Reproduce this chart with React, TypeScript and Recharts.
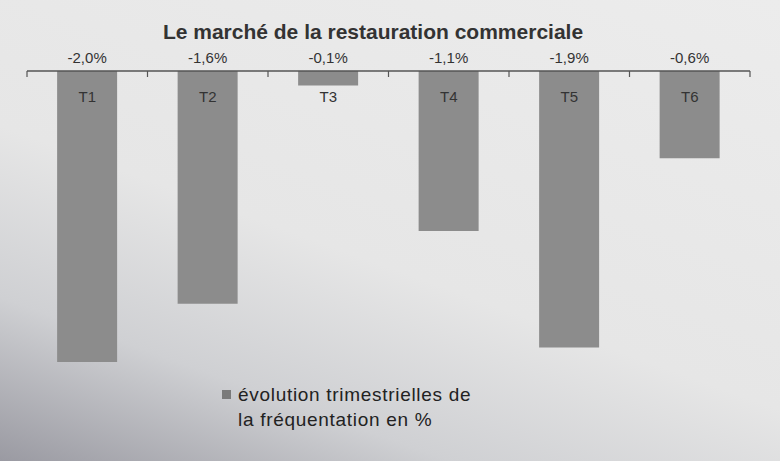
import React from "react";
import { BarChart, Bar, XAxis, YAxis, LabelList } from "recharts";

const categories = ["T1", "T2", "T3", "T4", "T5", "T6"];
const values = [-2.0, -1.6, -0.1, -1.1, -1.9, -0.6];
const valueLabels = ["-2,0%", "-1,6%", "-0,1%", "-1,1%", "-1,9%", "-0,6%"];
const seriesName = "évolution trimestrielles de la fréquentation en %";
const legendLines = ["évolution trimestrielles de", "la fréquentation en %"];
const title = "Le marché de la restauration commerciale";

const data = categories.map((c, i) => ({ cat: c, value: values[i], label: valueLabels[i] }));

const W = 780;
const H = 461;
const M = { top: 41, right: 30, bottom: 99, left: 27 };
const BAND = (W - M.left - M.right) / categories.length;
const FONT = "'Liberation Sans', Arial, sans-serif";
const BAR_FILL = "#8c8c8c";

const CatTick = (props: any) => {
  const { x, y, payload, index } = props;
  return (
    <g>
      <line x1={x + BAND / 2} y1={y} x2={x + BAND / 2} y2={y + 6} stroke="#555" strokeWidth={1.2} />
      {index === 0 && <line x1={x - BAND / 2} y1={y} x2={x - BAND / 2} y2={y + 6} stroke="#555" strokeWidth={1.2} />}
      <text x={x} y={y + 31} textAnchor="middle" fontSize={15} fill="#333" fontFamily={FONT}>
        {payload.value}
      </text>
    </g>
  );
};

const ValueLabel = (props: any) => {
  const { x, y, width, height, value } = props;
  const top = Math.min(y, y + height);
  return (
    <text x={x + width / 2} y={top - 8} textAnchor="middle" fontSize={15} fill="#333" fontFamily={FONT}>
      {value}
    </text>
  );
};

export default function App() {
  return (
    <div
      style={{
        position: "fixed",
        left: 0,
        top: 0,
        width: W,
        height: H,
        background: "linear-gradient(20deg, #9a9aa2 0%, #cfd0d3 22%, #e6e6e6 45%, #ececec 100%)",
      }}
    >
      <div
        style={{
          position: "absolute",
          top: 20,
          left: 0,
          width: 746,
          textAlign: "center",
          fontFamily: FONT,
          fontWeight: "bold",
          fontSize: 21,
          color: "#333",
        }}
      >
        {title}
      </div>
      <BarChart width={W} height={H} data={data} margin={M} barCategoryGap="25%">
        <XAxis
          dataKey="cat"
          orientation="top"
          height={30}
          tickLine={false}
          tickSize={0}
          tickMargin={0}
          axisLine={{ stroke: "#555", strokeWidth: 1.5 }}
          tick={<CatTick />}
          interval={0}
        />
        <YAxis hide domain={[-2, 0]} />
        <Bar dataKey="value" name={seriesName} fill={BAR_FILL} isAnimationActive={false}>
          <LabelList dataKey="label" content={<ValueLabel />} />
        </Bar>
      </BarChart>
      <div
        style={{
          position: "absolute",
          left: 222,
          top: 382,
          fontFamily: FONT,
          fontSize: 19,
          letterSpacing: 0.7,
          color: "#222",
          lineHeight: "25px",
          paddingLeft: 16,
        }}
      >
        <span style={{ position: "absolute", left: 0, top: 8, width: 9, height: 9, background: "#7a7a7a" }} />
        {legendLines.map((l, i) => (
          <div key={i}>{l}</div>
        ))}
      </div>
    </div>
  );
}
